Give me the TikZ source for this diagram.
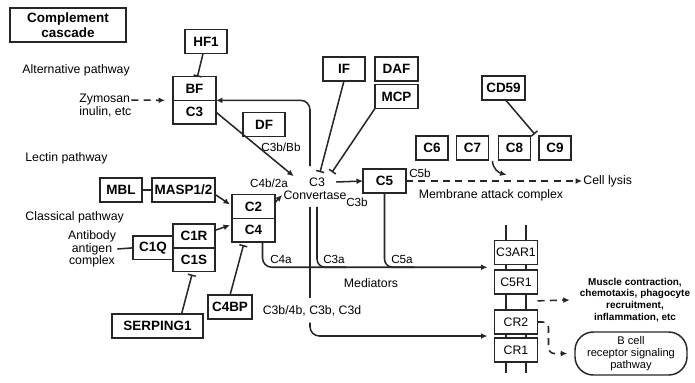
\documentclass[tikz,border=0pt]{standalone}
\usepackage{fontspec}
\setmainfont{Liberation Sans}
\usetikzlibrary{positioning, calc, arrows.meta, backgrounds}

\begin{document}
\begin{tikzpicture}[
    x=0.03cm, y=-0.03cm,
    box/.style={draw=black!85, line width=1.25pt, fill=white, minimum width=1.29cm, minimum height=0.71cm, inner sep=0pt, outer sep=0pt, font=\fontsize{11.5}{12}\selectfont\bfseries},
    rbox/.style={box, font=\fontsize{10.5}{12}\selectfont},
    lbl/.style={inner sep=1pt, font=\fontsize{10.5}{12}\selectfont},
    sml/.style={inner sep=1pt, font=\fontsize{10}{11}\selectfont},
    link/.style={line width=1.3pt, draw=black!85},
    arr/.style={link, -{Latex[length=5.5pt,width=5pt]}},
    inh/.style={link, -{Bar[width=7pt]}},
    dasharr/.style={arr, dash pattern=on 6pt off 4.5pt}
  ]
  \useasboundingbox (0,0) rectangle (695,382);

  % boxes
  \node[box, minimum width=3.48cm, minimum height=1.02cm, align=center, font=\fontsize{11.5}{13}\selectfont\bfseries] (title) at (68,25) {Complement\\cascade};
  \node[box, minimum width=1.26cm] (hf1) at (206,41.5) {HF1};
  \node[box] (bf) at (194.5,88.5) {BF};
  \node[box, below=0pt of bf] (c3) {C3};
  \node[box, minimum width=1.26cm] (df) at (264,124.5) {DF};
  \node[box, minimum width=1.26cm] (if) at (344,69) {IF};
  \node[box] (daf) at (396.5,69) {DAF};
  \node[box] (mcp) at (396.5,96.5) {MCP};
  \node[box] (cd59) at (503.5,88) {CD59};
  \foreach \n/\x in {6/432,7/472.5,8/514.5,9/555}
    \node[box, minimum width=0.96cm] (c\n) at (\x,148) {C\n};
  \node[box] (c5) at (384.5,181) {C5};
  \node[box, minimum width=1.26cm] (mbl) at (121,190) {MBL};
  \node[box, minimum width=1.89cm] (masp) at (183.5,190) {MASP1/2};
  \node[box] (c2) at (253.5,206.5) {C2};
  \node[box, below=0pt of c2] (c4) {C4};
  \node[box, minimum width=1.26cm] (c1r) at (194,236) {C1R};
  \node[box, minimum width=1.26cm, below=0pt of c1r] (c1s) {C1S};
  \node[box, minimum width=1.2cm, anchor=east] (c1q) at (c1r.south west) {C1Q};
  \node[box, minimum width=2.73cm] (serping) at (157.5,326) {SERPING1};
  \node[box, minimum width=1.32cm] (c4bp) at (230,307) {C4BP};
  \foreach \n/\t/\y in {c3ar1/C3AR1/252.5, c5r1/C5R1/282, cr2/CR2/322, cr1/CR1/350}
    \node[rbox] (\n) at (516,\y) {\t};
  \node[draw=black!85, line width=1.25pt, rounded corners=0.55cm, minimum width=3.36cm, minimum height=1.29cm, inner sep=0pt, align=center, font=\fontsize{9.5}{10.5}\selectfont] (bcell) at (631,353.5) {B cell\\receptor signaling\\pathway};

  % labels
  \node[lbl, anchor=west] (altp) at (21,70) {Alternative pathway};
  \node[lbl, anchor=west] (zym) at (78,100) {Zymosan};
  \node[lbl, anchor=west] (inu) at (78,112) {inulin, etc};
  \node[lbl, anchor=west] (lecp) at (24,158) {Lectin pathway};
  \node[lbl, anchor=west] (clap) at (24,217) {Classical pathway};
  \node[lbl, align=center, font=\fontsize{10.5}{10.5}\selectfont] (ab) at (92,249) {Antibody\\antigen\\complex};
  \node[sml] (c3bbb) at (281,147) {C3b/Bb};
  \node[sml] (c4b2a) at (269,183) {C4b/2a};
  \node[lbl] (conv) at (317,182) {C3};
  \node[lbl] (convtxt) at (315,195) {Convertase};
  \node[sml] (c3bl) at (357,202) {C3b};
  \node[sml] (c5b) at (420,173) {C5b};
  \node[lbl] (mac) at (491,195) {Membrane attack complex};
  \node[lbl, anchor=west] (lysis) at (582,181) {Cell lysis};
  \node[sml] (c4a) at (281,259) {C4a};
  \node[sml] (c3a) at (334,259) {C3a};
  \node[sml] (c5a) at (402,259) {C5a};
  \node[lbl] (med) at (371,283) {Mediators};
  \node[lbl] (c3b4b) at (312,311) {C3b/4b, C3b, C3d};
  \node[align=center, inner sep=0pt, font=\fontsize{8.5}{10}\selectfont\bfseries] (musc) at (635,300) {Muscle contraction,\\chemotaxis, phagocyte\\recruitment,\\inflammation, etc};

  % membrane
  \begin{scope}[on background layer]
    \draw[link] ($(c3ar1.north)+(-10,-16)$) -- ($(cr1.south)+(-10,11)$);
    \draw[link] ($(c3ar1.north)+(10,-16)$) -- ($(cr1.south)+(10,11)$);
  \end{scope}

  % inhibition
  \draw[inh] (hf1) -- (bf);
  \draw[inh] (if.south) -- ($(conv.north)+(3,-4)$);
  \draw[inh] (mcp.south west) -- ($(conv.north)+(15,-4)$);
  \draw[inh] ($(cd59.south)+(2,0)$) -- ($(c8.north east)!0.5!(c9.north west)+(0,-2)$);
  \draw[inh] ($(serping.north)+(24,0)$) -- ($(c1s.south)+(-2,3)$);
  \draw[inh] (c4bp.north) -- ($(c4.south)+(-10,3)$);

  % alternative and lectin / classical routes
  \draw[dasharr] (zym.east) -- ($(bf.south west)+(-8,0)$);
  \draw[arr, rounded corners=8] ($(conv.north)+(-7,-10)$) |- (bf.south east);
  \draw[arr] (c3.east) -- ($(conv.north west)+(-14,0)$);
  \draw[link] (mbl) -- (masp);
  \draw[arr] ($(masp.east)+(1,5)$) -- ($(c2.west)+(-2,-2)$);
  \draw[link] (ab.east) -- (c1q.west);
  \draw[arr] ($(c1r.east)+(1,-6)$) -- ($(c4.west)+(-2,-5)$);
  \draw[arr] ($(c2.east)+(0,-4)$) -- (convtxt.west);

  % terminal pathway
  \draw[arr] ($(conv.east)+(10,0)$) -- (c5.west);
  \draw[dasharr] (c5.east) -- (lysis.west);
  \draw[arr] ($(c7.south east)+(4,1)$) to[out=-90, in=165] ($(c7.south east)+(18,15)$);

  % mediators
  \coordinate (medy) at ($(c3ar1.south west)!0.5!(c5r1.north west)$);
  \draw[arr, rounded corners=8, shorten >=6] ($(c4.south)+(9,0)$) |- (medy);
  \draw[link, rounded corners=7] ($(convtxt.south)+(2,6)$) |- (c3a.east |- medy);
  \draw[link, rounded corners=7] (c5.south) |- (c5a.east |- medy);
  \draw[link] ($(convtxt.south)+(-5,6)$) -- ($(c3b4b.north)+(-2,-6)$);
  \draw[arr, rounded corners=8, shorten >=6] ($(c3b4b.south)+(-2,5)$) |- ($(cr2.south west)!0.5!(cr1.north west)$);

  % outcomes
  \draw[dasharr] ($(c5r1.south east)+(0,7)$) -- ($(musc.west)+(-10,0)$);
  \draw[dasharr, rounded corners=5] (cr2.east) -- ++(11,0) |- ($(bcell.west)+(-7,0)$);
\end{tikzpicture}
\end{document}
